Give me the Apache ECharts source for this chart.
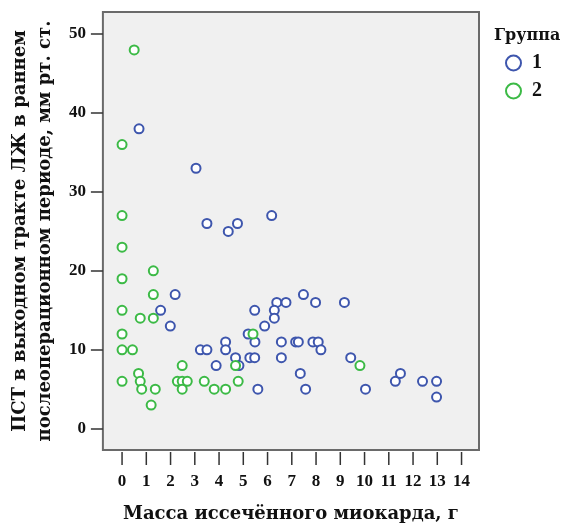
<!DOCTYPE html>
<html>
<head>
<meta charset="utf-8">
<script src="https://cdn.jsdelivr.net/npm/echarts@6/dist/echarts.min.js"></script>
<style>
    html, body { margin: 0; padding: 0; background: #fff; }
    #chart { width: 563px; height: 528px; }
</style>
</head>
<body>
<div id="chart"></div>
<script>
    // группа 1 (синие)
    var x1 = [0.7, 3.05, 6.17, 3.5, 4.76, 4.38, 2.19, 1.59, 1.99, 5.47, 6.38, 6.76, 6.28, 6.28, 5.88, 5.2, 5.48, 4.27, 6.57, 7.16, 7.27, 7.48, 7.98, 9.17, 7.87, 8.09, 8.2, 3.23, 3.5, 4.27, 4.68, 5.27, 5.47, 6.57, 9.43, 3.88, 4.82, 7.35, 7.57, 5.6, 10.04, 11.27, 11.48, 12.39, 12.97, 12.97]
    var y1 = [38, 33, 27, 26, 26, 25, 17, 15, 13, 15, 16, 16, 15, 14, 13, 12, 11, 11, 11, 11, 11, 17, 16, 16, 11, 11, 10, 10, 10, 10, 9, 9, 9, 9, 9, 8, 8, 7, 5, 5, 5, 6, 7, 6, 6, 4]
    // группа 2 (зелёные)
    var x2 = [0.5, 0, 0, 0, 0, 1.29, 1.29, 0, 0.75, 1.29, 0, 0, 0.43, 5.4, 2.48, 4.68, 9.81, 0.68, 0, 0.75, 2.28, 2.48, 2.69, 3.39, 4.79, 0.81, 1.37, 2.48, 3.8, 4.27, 1.2]
    var y2 = [48, 36, 27, 23, 19, 20, 17, 15, 14, 14, 12, 10, 10, 12, 8, 8, 8, 7, 6, 6, 6, 6, 6, 6, 6, 5, 5, 5, 5, 5, 3]
    // подписи осей
    var xTicks = [0, 1, 2, 3, 4, 5, 6, 7, 8, 9, 10, 11, 12, 13, 14]
    var yTicks = [0, 10, 20, 30, 40, 50]
    var groups = ['1', '2']
    var colors = ['#3e56ad', '#3cba46']

    var xMin = -0.79, xMax = 14.72
    var yMin = -2.7, yMax = 52.8

    var serif = 'Liberation Serif'
    var wideSerif = 'DejaVu Serif'

    function pairs (xs, ys) {
        return xs.map(function (x, i) { return [x, ys[i]] })
    }

    var chart = echarts.init(document.getElementById('chart'))
    chart.setOption({
        animation: false,
        title: {
            text: 'Группа',
            left: 489,
            top: 23,
            textStyle: { fontFamily: wideSerif, fontWeight: 'bold', fontSize: 16, color: '#111' }
        },
        legend: {
            orient: 'vertical',
            left: 500,
            top: 48,
            itemWidth: 15,
            itemHeight: 15,
            itemGap: 8,
            textStyle: { fontFamily: serif, fontWeight: 'bold', fontSize: 20, lineHeight: 19, color: '#111', padding: [0, 0, 0, 6] },
            data: groups.map(function (g, i) {
                return { name: g, icon: 'circle', itemStyle: { color: 'rgba(0,0,0,0)', borderColor: colors[i], borderWidth: 2 } }
            })
        },
        grid: {
            left: 98,
            top: 12,
            right: 84,
            bottom: 76,
            show: true,
            backgroundColor: '#f0f0f0',
            borderColor: '#6a6a6a',
            borderWidth: 2
        },
        xAxis: {
            type: 'value',
            min: xMin,
            max: xMax,
            splitLine: { show: false },
            axisLine: { show: false, onZero: false },
            axisTick: { show: false },
            axisLabel: { customValues: xTicks, margin: 23, fontFamily: serif, fontWeight: 'bold', fontSize: 17, color: '#111' },
            name: 'Масса иссечённого миокарда, г',
            nameLocation: 'middle',
            nameGap: 55,
            nameTextStyle: { fontFamily: wideSerif, fontWeight: 'bold', fontSize: 18, color: '#111' }
        },
        yAxis: {
            type: 'value',
            min: yMin,
            max: yMax,
            splitLine: { show: false },
            axisLine: { show: false, onZero: false },
            axisTick: { show: true, customValues: yTicks, length: 12, lineStyle: { color: '#333', width: 1.5 } },
            axisLabel: { customValues: yTicks, margin: 17, fontFamily: serif, fontWeight: 'bold', fontSize: 17, color: '#111' },
            name: 'ПСТ в выходном тракте ЛЖ в раннем\nпослеоперационном периоде, мм рт. ст.',
            nameLocation: 'middle',
            nameRotate: 90,
            nameGap: 44,
            nameTextStyle: { fontFamily: wideSerif, fontWeight: 'bold', fontSize: 18, lineHeight: 25, color: '#111' }
        },
        series: [
            {
                name: groups[0],
                type: 'scatter',
                symbol: 'circle',
                symbolSize: 9,
                data: pairs(x1, y1),
                itemStyle: { color: '#fff', borderColor: colors[0], borderWidth: 2, opacity: 1 }
            },
            {
                name: groups[1],
                type: 'scatter',
                symbol: 'circle',
                symbolSize: 9,
                data: pairs(x2, y2),
                itemStyle: { color: '#fff', borderColor: colors[1], borderWidth: 2, opacity: 1 }
            },
            {
                // засечки оси X под рамкой
                type: 'custom',
                silent: true,
                clip: false,
                data: xTicks.map(function (v) { return [v, yMin] }),
                renderItem: function (params, api) {
                    var p = api.coord([api.value(0), api.value(1)])
                    return {
                        type: 'line',
                        shape: { x1: p[0], y1: p[1] + 2, x2: p[0], y2: p[1] + 15 },
                        style: { stroke: '#333', lineWidth: 1.5 }
                    }
                }
            }
        ]
    })
</script>
</body>
</html>
